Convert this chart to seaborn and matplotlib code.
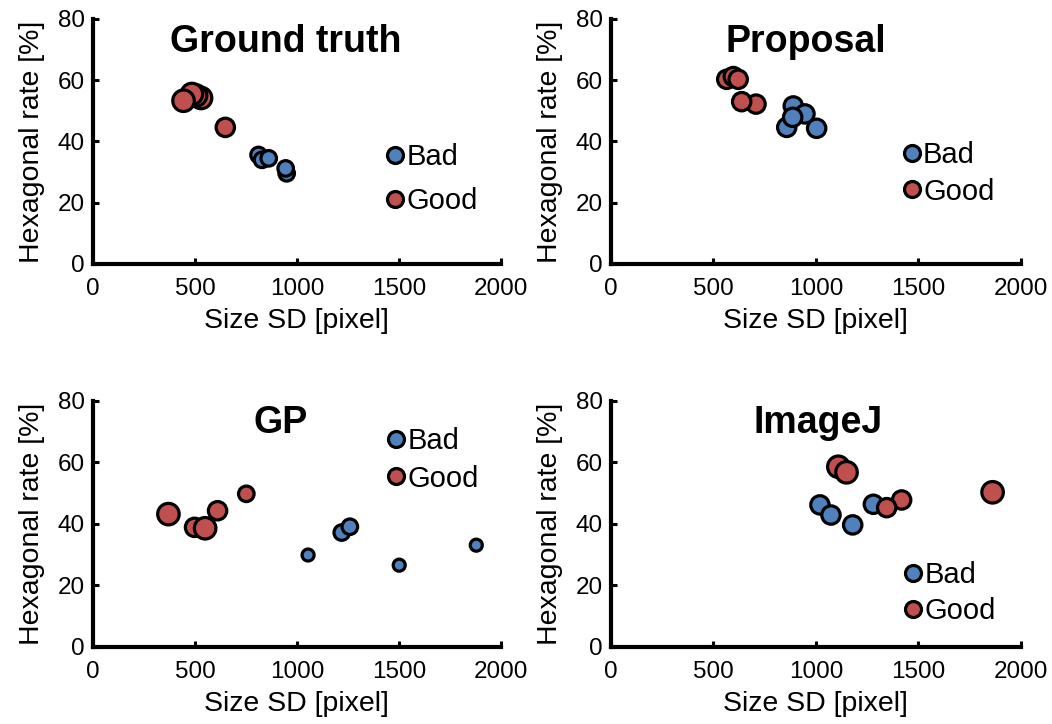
import pandas as pd
import matplotlib
matplotlib.use("Agg")
import matplotlib.pyplot as plt
import seaborn as sns
from matplotlib.lines import Line2D

# Data (x: Size SD [pixel], y: Hexagonal rate [%])
gt_bad_x = [812, 829, 862, 950, 945]
gt_bad_y = [35.6, 34.0, 34.5, 29.6, 31.2]
gt_bad_s = ["S", "S", "S", "S", "S"]
gt_good_x = [649, 530, 505, 485, 444]
gt_good_y = [44.6, 54.2, 55.0, 55.5, 53.3]
gt_good_s = ["M", "L", "L", "L", "L"]

prop_bad_x = [1004, 858, 890, 947, 887]
prop_bad_y = [44.3, 44.6, 51.6, 49.0, 47.9]
prop_bad_s = ["M", "M", "M", "M", "M"]
prop_good_x = [708, 638, 565, 597, 621]
prop_good_y = [52.2, 53.0, 60.3, 61.2, 60.3]
prop_good_s = ["M", "M", "M", "M", "M"]

gp_bad_x = [1055, 1220, 1260, 1502, 1880]
gp_bad_y = [29.9, 37.2, 39.1, 26.6, 33.1]
gp_bad_s = ["XS", "S", "S", "XS", "XS"]
gp_good_x = [752, 611, 370, 498, 550]
gp_good_y = [49.8, 44.3, 43.2, 38.9, 38.6]
gp_good_s = ["S", "M", "L", "M", "L"]

ij_bad_x = [1020, 1074, 1180, 1281]
ij_bad_y = [46.2, 42.9, 39.7, 46.4]
ij_bad_s = ["M", "M", "M", "M"]
ij_good_x = [1863, 1419, 1346, 1110, 1150]
ij_good_y = [50.3, 47.8, 45.3, 58.6, 56.8]
ij_good_s = ["L", "M", "M", "L", "L"]

titles = ["Ground truth", "Proposal", "GP", "ImageJ"]
x_ticks = [0, 500, 1000, 1500, 2000]
y_ticks = [0, 20, 40, 60, 80]

panels = [
    (gt_bad_x, gt_bad_y, gt_bad_s, gt_good_x, gt_good_y, gt_good_s),
    (prop_bad_x, prop_bad_y, prop_bad_s, prop_good_x, prop_good_y, prop_good_s),
    (gp_bad_x, gp_bad_y, gp_bad_s, gp_good_x, gp_good_y, gp_good_s),
    (ij_bad_x, ij_bad_y, ij_bad_s, ij_good_x, ij_good_y, ij_good_s),
]

# layout
axes_rects = [
    [0.0884, 0.6354, 0.3876, 0.3384],
    [0.5808, 0.6354, 0.3894, 0.3384],
    [0.0884, 0.1064, 0.3876, 0.3398],
    [0.5808, 0.1064, 0.3894, 0.3398],
]
title_pos = [(0.473, 0.906), (0.476, 0.906), (0.459, 0.911), (0.505, 0.911)]
legend_pos = [(0.722, 0.345), (0.714, 0.37), (0.724, 0.760), (0.718, 0.2195)]
legend_spacing = [0.55, 0.3, 0.32, 0.27]

colors = {"Bad": "#4F81BD", "Good": "#C0504D"}
sizes = {"L": 240, "M": 175, "S": 125, "XS": 75}

sns.set_style("ticks")
plt.rcParams["font.family"] = ["Liberation Sans", "DejaVu Sans"]
plt.rcParams["text.color"] = "black"
plt.rcParams["axes.labelcolor"] = "black"

fig = plt.figure(figsize=(10.52, 7.24), dpi=100)

for i, (bx, by, bs, gx, gy, gs) in enumerate(panels):
    ax = fig.add_axes(axes_rects[i])
    df = pd.DataFrame({
        "x": bx + gx,
        "y": by + gy,
        "cls": ["Bad"] * len(bx) + ["Good"] * len(gx),
        "sz": bs + gs,
    })
    sns.scatterplot(data=df, x="x", y="y", hue="cls", size="sz",
                    palette=colors, sizes=sizes, edgecolor="black",
                    linewidth=2.3, alpha=1, legend=False, ax=ax, zorder=3)

    ax.set_xlim(0, 2000)
    ax.set_ylim(0, 80)
    ax.set_xticks(x_ticks)
    ax.set_yticks(y_ticks)
    ax.tick_params(direction="in", length=4, width=2.2, labelsize=17.5,
                   colors="black")
    ax.tick_params(axis="x", pad=10)
    ax.tick_params(axis="y", pad=6)
    for side in ["left", "bottom"]:
        ax.spines[side].set_linewidth(3)
        ax.spines[side].set_color("black")
    sns.despine(ax=ax)
    ax.set_xlabel("Size SD [pixel]", fontsize=20.5, labelpad=6)
    ax.set_ylabel("Hexagonal rate [%]", fontsize=20.5, labelpad=9)

    ax.text(title_pos[i][0], title_pos[i][1], titles[i], transform=ax.transAxes,
            ha="center", va="center", fontsize=27, fontweight="bold",
            color="black")

    handles = [Line2D([], [], marker="o", linestyle="none", markersize=11.5,
                      markerfacecolor=colors[k], markeredgecolor="black",
                      markeredgewidth=2.3, label=k) for k in ["Bad", "Good"]]
    ax.legend(handles=handles, loc="center left",
              bbox_to_anchor=legend_pos[i], frameon=False, fontsize=21,
              handlelength=0.55, handletextpad=0.12, borderpad=0,
              borderaxespad=0, labelspacing=legend_spacing[i])

fig.savefig("out.png", dpi=100)
